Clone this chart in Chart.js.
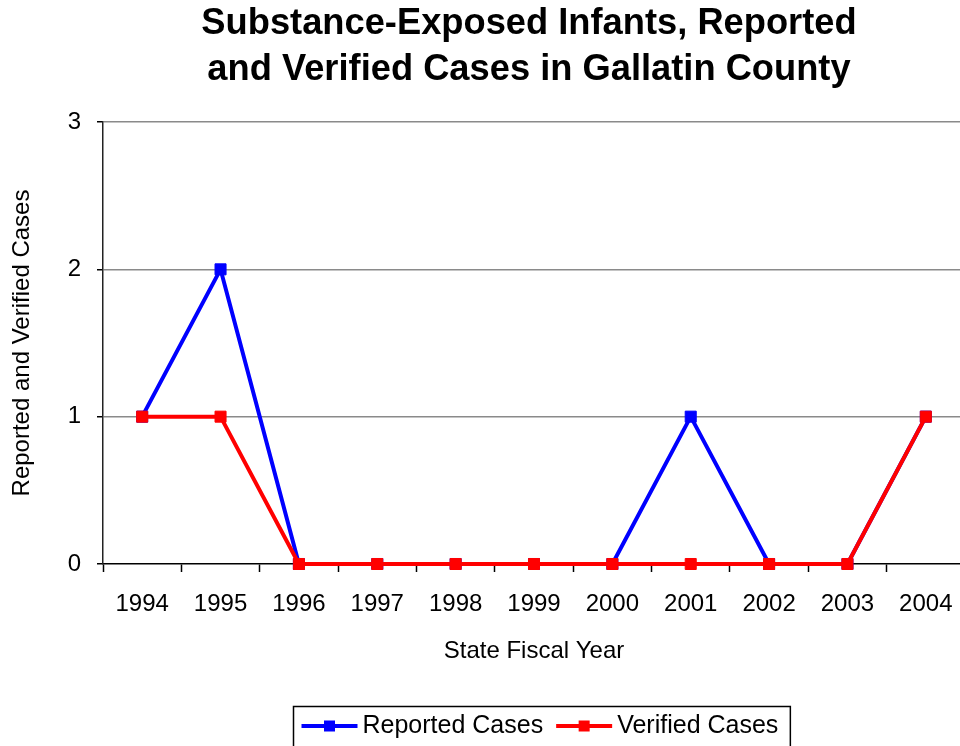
<!DOCTYPE html>
<html>
<head>
<meta charset="utf-8">
<script src="https://cdn.jsdelivr.net/npm/chart.js@4/dist/chart.umd.min.js"></script>
<style>
  html, body { margin: 0; padding: 0; background: #fff; overflow: hidden; }
  canvas { display: block; }
</style>
</head>
<body>
<canvas id="chart" width="1000" height="760"></canvas>
<script>
// Substance-exposed infants, Gallatin County, by state fiscal year
const titleLines = ['Substance-Exposed Infants, Reported', 'and Verified Cases in Gallatin County'];
const years = ['1994', '1995', '1996', '1997', '1998', '1999', '2000', '2001', '2002', '2003', '2004'];
const reportedCases = [1, 2, 0, 0, 0, 0, 0, 1, 0, 0, 1];
const verifiedCases = [1, 1, 0, 0, 0, 0, 0, 0, 0, 0, 1];
const yTicks = [0, 1, 2, 3];
const xAxisTitle = 'State Fiscal Year';
const yAxisTitle = 'Reported and Verified Cases';

const FONT = '"Liberation Sans", Arial, Helvetica, sans-serif';

// Two-line bold title centred over the page
const titlePlugin = {
  id: 'twoLineTitle',
  afterDraw(chart) {
    const ctx = chart.ctx;
    ctx.save();
    ctx.fillStyle = '#000';
    ctx.font = 'bold 36px ' + FONT;
    ctx.textAlign = 'center';
    ctx.textBaseline = 'middle';
    titleLines.forEach((line, i) => {
      ctx.save();
      ctx.translate(529, 24 + i * 46);
      ctx.scale(1.008, 1);
      ctx.fillText(line, 0, 0);
      ctx.restore();
    });
    ctx.restore();
  }
};

// Boxed legend: line sample with a square marker, then the series name
const boxLegendPlugin = {
  id: 'boxLegend',
  afterDraw(chart) {
    const ctx = chart.ctx;
    const sets = chart.data.datasets;
    ctx.save();
    ctx.font = '25px ' + FONT;
    const sample = 56, gapText = 5, gapItem = 13, padL = 8, padR = 12;
    let total = padL + padR;
    sets.forEach((ds, i) => {
      total += sample + gapText + ctx.measureText(ds.label).width;
      if (i < sets.length - 1) total += gapItem;
    });
    const boxLeft = Math.round(541 - total / 2) + 0.5;
    const boxTop = 706.5;
    ctx.strokeStyle = '#000';
    ctx.lineWidth = 1.5;
    ctx.strokeRect(boxLeft, boxTop, total, 60);
    const cy = 726;
    let x = boxLeft + padL;
    sets.forEach((ds) => {
      ctx.strokeStyle = ds.borderColor;
      ctx.lineWidth = 4;
      ctx.beginPath();
      ctx.moveTo(x, cy);
      ctx.lineTo(x + sample, cy);
      ctx.stroke();
      ctx.fillStyle = ds.borderColor;
      ctx.fillRect(x + sample / 2 - 5.5, cy - 5.5, 11, 11);
      x += sample + gapText;
      ctx.fillStyle = '#000';
      ctx.textAlign = 'left';
      ctx.textBaseline = 'middle';
      ctx.fillText(ds.label, x, cy);
      x += ctx.measureText(ds.label).width + gapItem;
    });
    ctx.restore();
  }
};

new Chart(document.getElementById('chart'), {
  type: 'line',
  data: {
    labels: years,
    datasets: [
      {
        label: 'Reported Cases',
        data: reportedCases,
        borderColor: '#0000ff',
        backgroundColor: '#0000ff',
        borderWidth: 4,
        pointStyle: 'rect',
        pointRadius: 7.8,
        pointBorderWidth: 1,
        tension: 0,
        clip: false,
        order: 1
      },
      {
        label: 'Verified Cases',
        data: verifiedCases,
        borderColor: '#ff0000',
        backgroundColor: '#ff0000',
        borderWidth: 4,
        pointStyle: 'rect',
        pointRadius: 7.8,
        pointBorderWidth: 1,
        tension: 0,
        clip: false,
        order: 0
      }
    ]
  },
  options: {
    responsive: false,
    animation: false,
    devicePixelRatio: 1,
    layout: { padding: { top: 122, left: 0, right: 35, bottom: 66 } },
    plugins: {
      legend: { display: false },
      title: { display: false },
      tooltip: { enabled: false }
    },
    scales: {
      x: {
        type: 'category',
        offset: true,
        afterFit(scale) { scale.height = 130; },
        grid: {
          offset: true,
          drawOnChartArea: false,
          drawTicks: true,
          tickLength: 8,
          tickColor: '#000',
          tickWidth: 1.5
        },
        border: { display: true, color: '#000', width: 1.5 },
        ticks: {
          color: '#000',
          font: { family: FONT, size: 24 },
          padding: 18,
          maxRotation: 0,
          autoSkip: false
        },
        title: {
          display: true,
          text: xAxisTitle,
          color: '#000',
          font: { family: FONT, size: 24 },
          padding: { top: 0, bottom: 28 }
        }
      },
      y: {
        min: yTicks[0],
        max: yTicks[yTicks.length - 1],
        afterFit(scale) { scale.width = 103; },
        afterBuildTicks(scale) { scale.ticks = yTicks.map(v => ({ value: v })); },
        grid: {
          color: (c) => (c.tick && c.tick.value === 0 ? 'rgba(0,0,0,0)' : '#8a8a8a'),
          lineWidth: 1.5,
          drawTicks: true,
          tickLength: 6,
          tickColor: '#000',
          tickWidth: 1.5
        },
        border: { display: true, color: '#222', width: 1.5 },
        ticks: {
          color: '#000',
          font: { family: FONT, size: 24 },
          padding: 16
        },
        title: {
          display: true,
          text: yAxisTitle,
          color: '#000',
          font: { family: FONT, size: 24 },
          padding: { top: 8, bottom: 0 }
        }
      }
    }
  },
  plugins: [titlePlugin, boxLegendPlugin]
});
</script>
</body>
</html>
